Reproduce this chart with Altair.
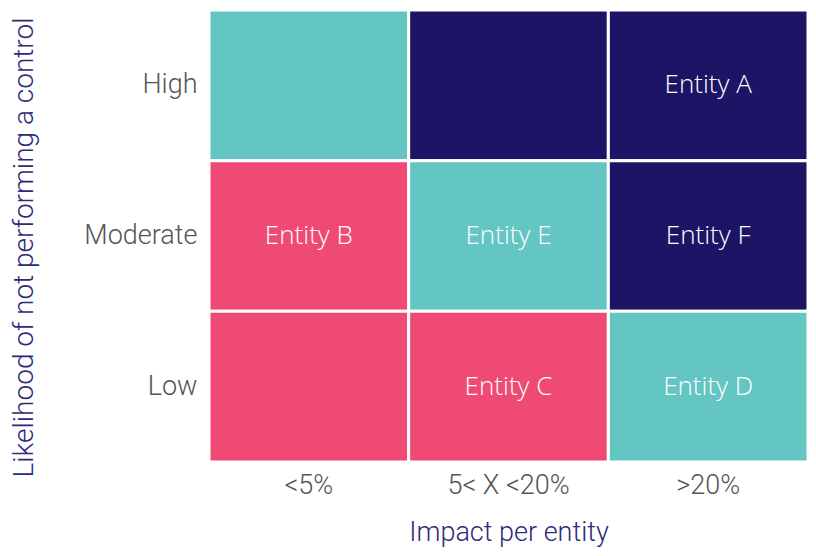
import altair as alt
import pandas as pd

impact = ["<5%", "5< X <20%", ">20%"]
likelihood = ["High", "Moderate", "Low"]
# rows: High, Moderate, Low ; columns: <5%, 5<X<20%, >20%
levels = [
    ["mid", "high", "high"],
    ["low", "mid", "high"],
    ["low", "low", "mid"],
]
labels = [
    ["", "", "Entity A"],
    ["Entity B", "Entity E", "Entity F"],
    ["", "Entity C", "Entity D"],
]
level_names = ["low", "mid", "high"]
level_colors = ["#EF4A73", "#63C6C3", "#1C1464"]

rows = []
for i, lk in enumerate(likelihood):
    for j, im in enumerate(impact):
        rows.append({"Impact": im, "Likelihood": lk, "level": levels[i][j], "label": labels[i][j]})
df = pd.DataFrame(rows)

base = alt.Chart(df)
rect = base.mark_rect(stroke="white", strokeWidth=3).encode(
    x=alt.X("Impact:N", sort=impact, title="Impact per entity",
            axis=alt.Axis(labelAngle=0, domain=False, ticks=False, labelPadding=10,
                          titlePadding=21, titleFontSize=27)),
    y=alt.Y("Likelihood:N", sort=likelihood, title="Likelihood of not performing a control",
            axis=alt.Axis(domain=False, ticks=False, labelPadding=12, titlePadding=45,
                          titleY=237)),
    color=alt.Color("level:N", scale=alt.Scale(domain=level_names, range=level_colors), legend=None),
)
text = base.mark_text(color="white", fontSize=26, font="Open Sans", fontWeight=300).encode(
    x=alt.X("Impact:N", sort=impact),
    y=alt.Y("Likelihood:N", sort=likelihood),
    text="label:N",
)

chart = (rect + text).properties(
    width=599, height=452,
    autosize=alt.AutoSizeParams(type="none"),
    padding={"left": 201, "top": 2, "right": 0, "bottom": 86},
).configure_view(stroke=None).configure_axis(
    labelFont="Roboto", labelFontWeight=300, labelFontSize=27, labelColor="#555555",
    titleFont="Roboto", titleFontWeight=300, titleFontSize=28, titleColor="#2E2A7A",
    grid=False,
).configure_scale(bandPaddingInner=0)

chart.save("out.html", embed_options={"renderer": "svg", "actions": False})
